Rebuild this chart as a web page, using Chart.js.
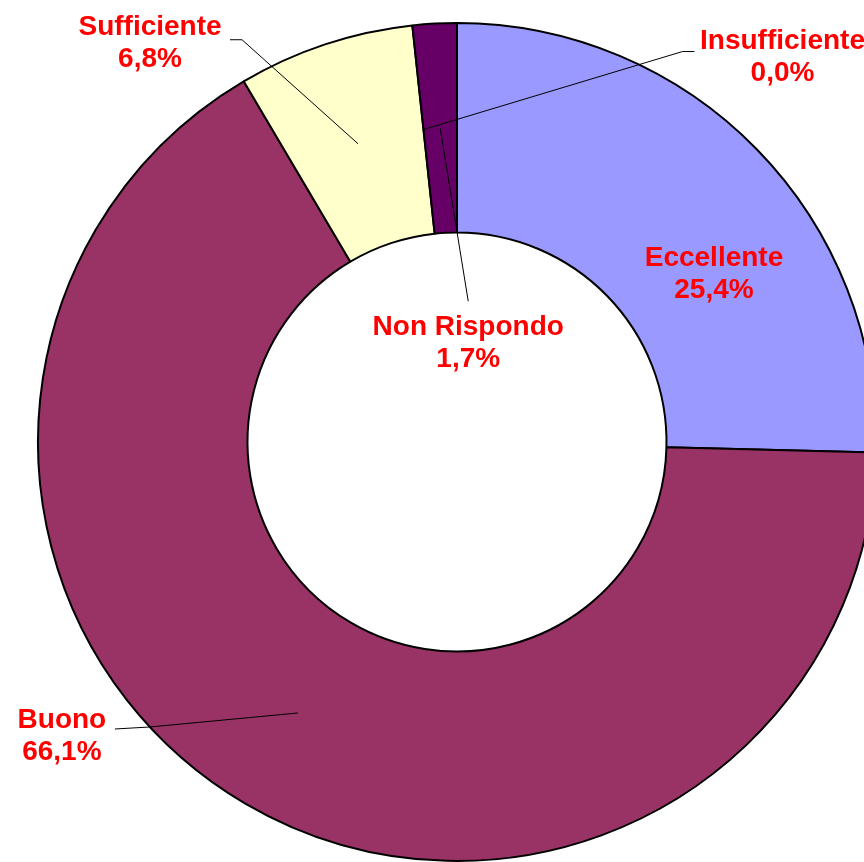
<!DOCTYPE html>
<html>
<head>
<meta charset="utf-8">
<script src="https://cdn.jsdelivr.net/npm/chart.js@4/dist/chart.umd.min.js"></script>
<style>
  html, body { margin: 0; padding: 0; overflow: hidden; background: #ffffff; width: 864px; height: 862px; }
  #wrap { position: absolute; left: 0; top: 0; width: 914px; height: 884px; }
  canvas { display: block; }
</style>
</head>
<body>
<div id="wrap"><canvas id="c" width="914" height="884"></canvas></div>
<script>
// ---- data ----
const categories = ['Eccellente', 'Buono', 'Sufficiente', 'Insufficiente', 'Non Rispondo'];
const percentages = [25.4, 66.1, 6.8, 0.0, 1.7];
const sliceColors = ['#9999FF', '#993366', '#FFFFCC', '#FFFFFF', '#660066'];

// label placement relative to each slice's mid point (styling only)
const labelOffsets = [[32, 36], [-236, 7], [-208, -116], [359, -88], [28, 199]];
// leader polylines relative to slice mid point (null = no leader)
const leaders = [
  null,
  [[-148, 14], [-183, 16]],
  [[-116, -104], [-128, -104]],
  [[259, -78], [271, -78]],
  [[28, 173]]
];

const labelPlugin = {
  id: 'sliceLabels',
  afterDatasetsDraw(chart) {
    const ctx = chart.ctx;
    const meta = chart.getDatasetMeta(0);
    ctx.save();
    meta.data.forEach((arc, i) => {
      const p = arc.getProps(['x', 'y', 'startAngle', 'endAngle', 'innerRadius', 'outerRadius'], true);
      const a = (p.startAngle + p.endAngle) / 2;
      const rm = (p.innerRadius + p.outerRadius) / 2;
      const ax = p.x + Math.cos(a) * rm;
      const ay = p.y + Math.sin(a) * rm;
      if (leaders[i]) {
        ctx.beginPath();
        ctx.strokeStyle = '#000000';
        ctx.lineWidth = 1;
        ctx.moveTo(ax, ay);
        leaders[i].forEach(pt => ctx.lineTo(ax + pt[0], ay + pt[1]));
        ctx.stroke();
      }
      const lx = ax + labelOffsets[i][0];
      const ly = ay + labelOffsets[i][1];
      ctx.fillStyle = '#FF0000';
      ctx.font = 'bold 28px "Liberation Sans", Arial, sans-serif';
      ctx.textAlign = 'center';
      ctx.textBaseline = 'middle';
      ctx.fillText(categories[i], lx, ly);
      ctx.fillText(percentages[i].toFixed(1).replace('.', ',') + '%', lx, ly + 32);
    });
    ctx.restore();
  }
};

new Chart(document.getElementById('c'), {
  type: 'doughnut',
  data: {
    labels: categories,
    datasets: [{
      data: percentages,
      backgroundColor: sliceColors,
      borderColor: '#000000',
      borderWidth: 2,
      hoverOffset: 0
    }]
  },
  options: {
    responsive: false,
    animation: false,
    devicePixelRatio: 1,
    cutout: '50%',
    layout: { padding: { left: 37, right: 37, top: 22, bottom: 22 } },
    plugins: {
      legend: { display: false },
      title: { display: false },
      tooltip: { enabled: false }
    },
    events: []
  },
  plugins: [labelPlugin]
});
</script>
</body>
</html>
